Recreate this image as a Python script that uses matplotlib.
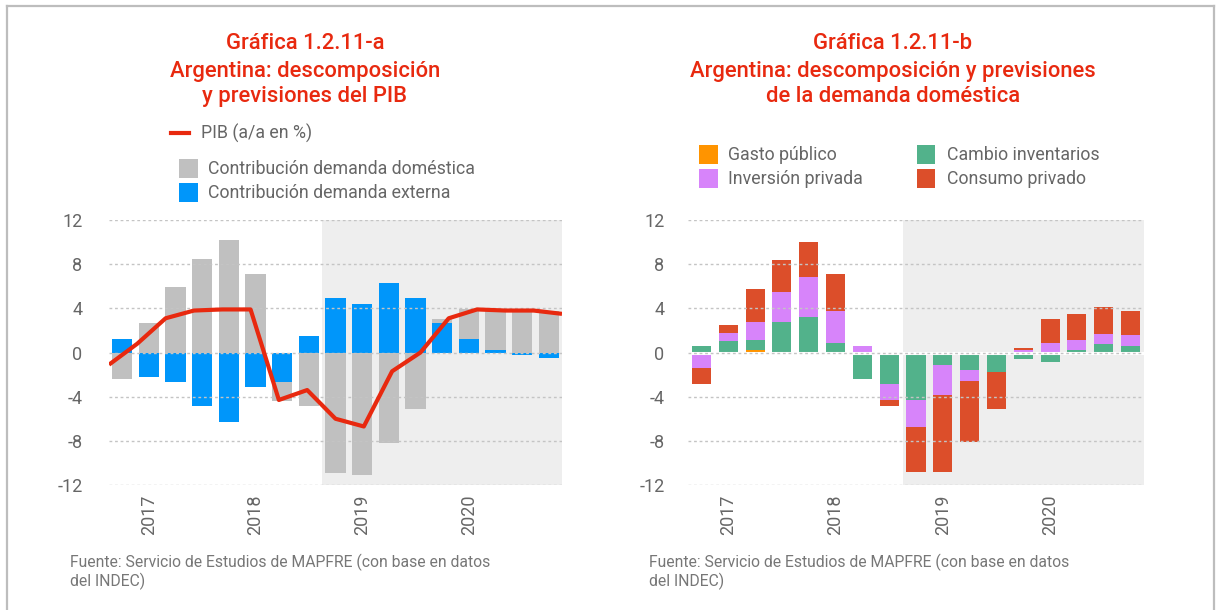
import numpy as np
import matplotlib.pyplot as plt
from matplotlib.lines import Line2D
from matplotlib.patches import Rectangle

plt.rcParams['font.family'] = ['Roboto', 'DejaVu Sans']

W, H = 1221, 610

# Trimestres (4T16 a 4T20) y años del eje
trimestres = ['4T16', '1T17', '2T17', '3T17', '4T17', '1T18', '2T18', '3T18', '4T18',
              '1T19', '2T19', '3T19', '4T19', '1T20', '2T20', '3T20', '4T20']
anios = ['2017', '2018', '2019', '2020']
inicio_prevision = '4T18'

# Gráfica a: contribuciones al PIB
demanda_externa = [1.25, -2.2, -2.7, -4.8, -6.3, -3.1, -2.7, 1.5, 4.9, 4.4, 6.3, 4.9, 2.7, 1.25, 0.25, -0.2, -0.5]
demanda_domestica = [-2.4, 2.7, 5.9, 8.5, 10.2, 7.1, -1.7, -4.8, -10.9, -11.1, -8.2, -5.1, 0.3, 2.65, 3.65, 3.9, 3.8]
pib = [-1.1, 0.8, 3.1, 3.8, 3.9, 3.9, -4.3, -3.4, -6.0, -6.7, -1.7, 0.0, 3.1, 3.9, 3.8, 3.8, 3.5]

# Gráfica b: componentes de la demanda doméstica
gasto_publico = [-0.24, 0.0, 0.27, 0.0, 0.0, 0.0, -0.24, -0.24, -0.24, -0.24, 0.0, 0.0, 0.0, 0.0, 0.0, 0.0, 0.0]
cambio_inventarios = [0.55, 1.0, 0.9, 2.73, 3.2, 0.82, -2.18, -2.64, -4.1, -0.9, -1.55, -1.73, -0.55, -0.82, 0.27, 0.8, 0.55]
inversion_privada = [-1.2, 0.73, 1.55, 2.73, 3.64, 2.9, 0.55, -1.45, -2.45, -2.73, -1.0, 0.0, 0.27, 0.82, 0.9, 0.9, 1.0]
consumo_privado = [-1.43, 0.73, 3.0, 2.95, 3.2, 3.4, 0.0, -0.55, -4.06, -6.97, -5.55, -3.36, 0.18, 2.18, 2.3, 2.45, 2.2]

ROJO = '#e8290f'
GRIS_TXT = '#666666'
SOMBRA = '#eeeeee'


def fx(x):
    return x / W


def fy(y):
    return 1 - y / H


def barras_apiladas(ax, series, colores, ancho):
    # apila positivos hacia arriba y negativos hacia abajo, como Excel
    x = np.arange(len(trimestres))
    base_pos = np.zeros(len(x))
    base_neg = np.zeros(len(x))
    for vals, c in zip(series, colores):
        v = np.array(vals, dtype=float)
        base = np.where(v >= 0, base_pos, base_neg)
        ax.bar(x, v, bottom=base, width=ancho, color=c, zorder=2, linewidth=0)
        base_pos = base_pos + np.where(v > 0, v, 0)
        base_neg = base_neg + np.where(v < 0, v, 0)


def preparar_eje(ax, pad_y, banda_cero=False):
    n = len(trimestres)
    ax.set_xlim(-0.5, n - 0.5)
    ax.set_ylim(-12, 12)
    ini = trimestres.index(inicio_prevision) - 0.5
    ax.axvspan(ini, n - 0.5, color=SOMBRA, zorder=0, linewidth=0)
    ticks = [-12, -8, -4, 0, 4, 8, 12]
    for t in ticks:
        if t == 0 and banda_cero:
            ax.axhline(0, color='white', lw=2.2, zorder=2.4)
        ax.axhline(t, color='#c4c4c4', lw=1.0, ls=(0, (2, 2)), zorder=2.5)
    ax.set_yticks(ticks)
    ax.set_yticklabels([str(t) for t in ticks])
    pos_anios = [trimestres.index('1T' + a[2:]) for a in anios]
    ax.set_xticks(pos_anios)
    ax.set_xticklabels(anios, rotation=90, va='top')
    ax.tick_params(axis='both', length=0, labelsize=13, labelcolor=GRIS_TXT)
    ax.tick_params(axis='y', pad=pad_y)
    ax.tick_params(axis='x', pad=7)
    for s in ax.spines.values():
        s.set_visible(False)


fig = plt.figure(figsize=(W / 100, H / 100), dpi=100)

ax1 = fig.add_axes([fx(109), fy(485), fx(562 - 109), (485 - 220) / H])
ax2 = fig.add_axes([fx(688), fy(485), fx(1144 - 688), (485 - 220) / H])

# --- Gráfica a ---
preparar_eje(ax1, 19)
barras_apiladas(ax1, [demanda_externa, demanda_domestica], ['#0096fa', '#c0c0c0'], 0.76)
n = len(trimestres)
x_linea = np.linspace(-0.5, n - 0.5, n)
ax1.plot(x_linea, pib, color=ROJO, lw=3, zorder=4, solid_capstyle='butt')

# --- Gráfica b ---
preparar_eje(ax2, 17, banda_cero=True)
barras_apiladas(ax2, [gasto_publico, cambio_inventarios, inversion_privada, consumo_privado],
                ['#ff9400', '#52b28b', '#d784fa', '#dc4e2a'], 0.71)

# Títulos
titulos = [
    (305, ['Gráfica 1.2.11-a', 'Argentina: descomposición', 'y previsiones del PIB']),
    (893, ['Gráfica 1.2.11-b', 'Argentina: descomposición y previsiones', 'de la demanda doméstica']),
]
for cx, lineas in titulos:
    for lin, base in zip(lineas, [49, 77, 102]):
        fig.text(fx(cx), fy(base), lin, ha='center', va='baseline', color=ROJO,
                 fontsize=15.8, fontweight='medium')


def muestra(x0, y0, x1, y1, color):
    fig.patches.append(Rectangle((fx(x0), fy(y1)), fx(x1 - x0), (y1 - y0) / H,
                                 transform=fig.transFigure, color=color, linewidth=0))


def etiqueta(x, y, txt):
    fig.text(fx(x), fy(y), txt, ha='left', va='center', color=GRIS_TXT, fontsize=12.8)


# Leyenda gráfica a
fig.lines.append(Line2D([fx(171), fx(189)], [fy(133), fy(133)], transform=fig.transFigure,
                        color=ROJO, lw=3))
etiqueta(201, 133, 'PIB (a/a en %)')
muestra(179, 159, 198, 178, '#c0c0c0')
etiqueta(208, 169, 'Contribución demanda doméstica')
muestra(179, 183, 198, 202, '#0096fa')
etiqueta(208, 193, 'Contribución demanda externa')

# Leyenda gráfica b
muestra(699, 145, 718, 164, '#ff9400')
etiqueta(728, 155, 'Gasto público')
muestra(699, 169, 718, 188, '#d784fa')
etiqueta(728, 179, 'Inversión privada')
muestra(917, 145, 935, 164, '#52b28b')
etiqueta(947, 155, 'Cambio inventarios')
muestra(917, 169, 935, 188, '#dc4e2a')
etiqueta(947, 179, 'Consumo privado')

# Fuentes
for x0 in (70, 649):
    fig.text(fx(x0), fy(567), 'Fuente: Servicio de Estudios de MAPFRE (con base en datos',
             ha='left', va='baseline', color='#777777', fontsize=11.3)
    fig.text(fx(x0), fy(586), 'del INDEC)', ha='left', va='baseline', color='#777777', fontsize=11.3)

# Marco
for xs, ys in [([7, 1214], [6, 6]), ([7, 7], [6, 610]), ([1214, 1214], [6, 610])]:
    fig.lines.append(Line2D([fx(v) for v in xs], [fy(v) for v in ys], transform=fig.transFigure,
                            color='#bdbdbd', lw=1.6))

fig.savefig('out.png', dpi=100, facecolor='white')
